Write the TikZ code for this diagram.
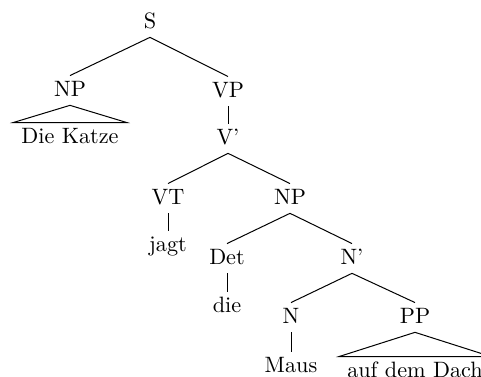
\documentclass[tikz,border=0pt]{standalone}
\begin{document}
\begin{tikzpicture}[x=0.45pt,y=-0.45pt,
  lbl/.style={anchor=base, inner xsep=3.5pt, inner ysep=2pt, text height=7pt, text depth=2pt},
  edge/.style={line width=0.45pt}]
\useasboundingbox (0,0) rectangle (481,376);
\node[lbl] (S) at (150,28) {S};
\node[lbl] (NPa) at (70,96) {NP};
\node[lbl] (Katze) at (70,143) {Die Katze};
\node[lbl] (VP) at (228,97) {VP};
\node[lbl] (Vbar) at (228,144) {V'};
\node[lbl] (VT) at (168,204) {VT};
\node[lbl] (jagt) at (168,251) {jagt};
\node[lbl] (NPb) at (290,204) {NP};
\node[lbl] (Det) at (227,264) {Det};
\node[lbl] (die) at (227,312) {die};
\node[lbl] (Nbar) at (352,264) {N'};
\node[lbl] (N) at (291,323) {N};
\node[lbl] (Maus) at (291,372) {Maus};
\node[lbl] (PP) at (415,323) {PP};
\node[lbl] (Dach) at (415,377) {auf dem Dach};
\draw[edge] (S.south) -- (NPa.north);
\draw[edge] (S.south) -- (VP.north);
\draw[edge] (NPa.south) -- (Katze.north west) -- (Katze.north east) -- cycle;
\draw[edge] (VP.south) -- (Vbar.north);
\draw[edge] (Vbar.south) -- (VT.north);
\draw[edge] (Vbar.south) -- (NPb.north);
\draw[edge] (VT.south) -- (jagt.north);
\draw[edge] (NPb.south) -- (Det.north);
\draw[edge] (NPb.south) -- (Nbar.north);
\draw[edge] (Det.south) -- (die.north);
\draw[edge] (Nbar.south) -- (N.north);
\draw[edge] (Nbar.south) -- (PP.north);
\draw[edge] (N.south) -- (Maus.north);
\draw[edge] (PP.south) -- (Dach.north west) -- (Dach.north east) -- cycle;
\end{tikzpicture}
\end{document}
